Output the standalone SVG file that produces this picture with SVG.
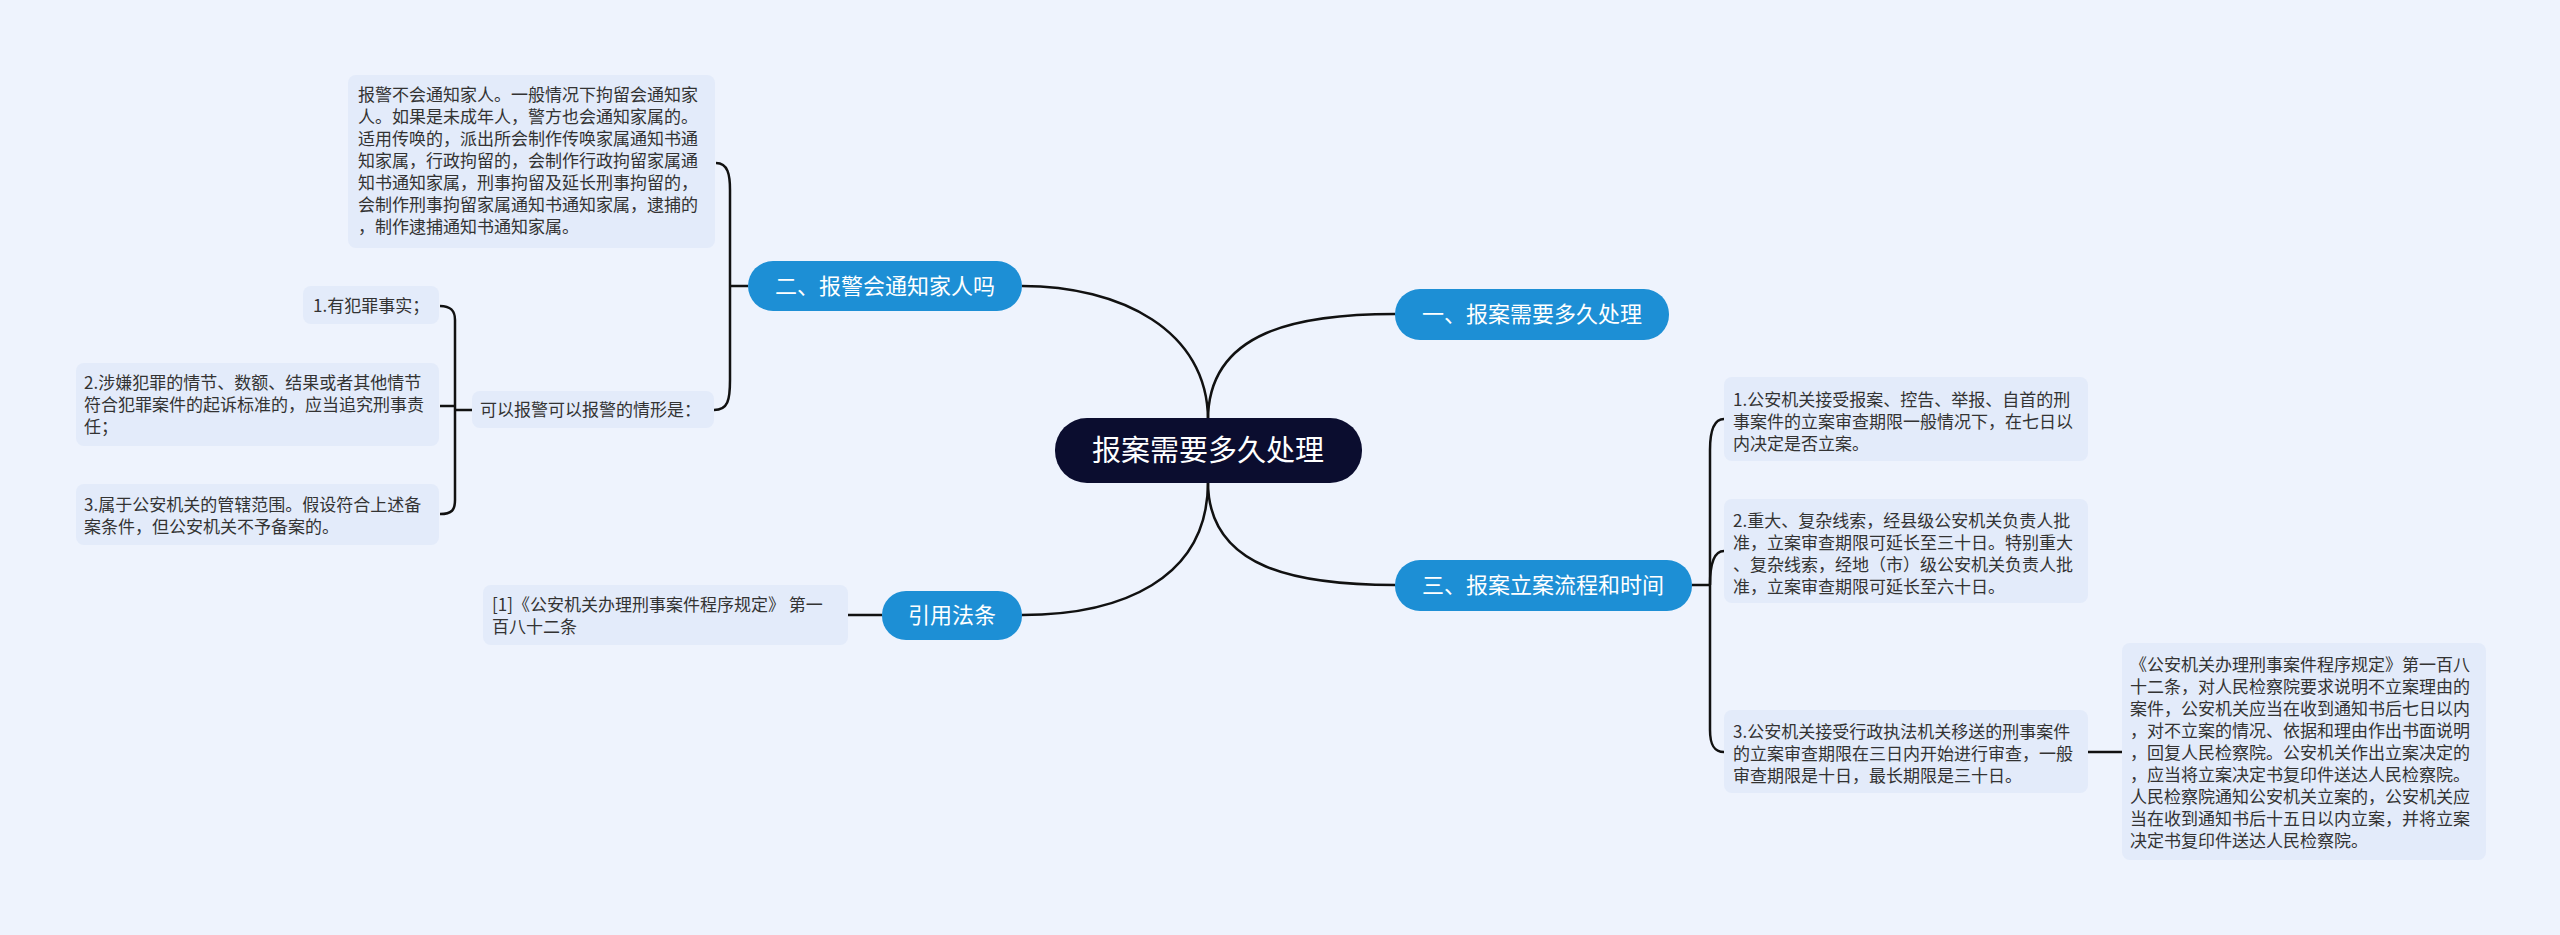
<svg xmlns="http://www.w3.org/2000/svg" width="2560" height="935" viewBox="0 0 2560 935">
<style>
text{font-family:"Noto Sans CJK SC","Noto Sans",sans-serif}
.leaf{fill:#e3ebfa}
.lt{font-size:17px;fill:#333}
.br{fill:#1d8fd5}
.bt{font-size:22px;fill:#fff;text-anchor:middle}
.c{fill:none;stroke:#111;stroke-width:2.5}
</style>
<rect width="2560" height="935" fill="#eef3fd"/>
<g id="connectors">
<path class="c" d="M1208 420 C1208 330 1300 314 1395 314"/>
<path class="c" d="M1208 420 C1208 330 1120 286 1022 286"/>
<path class="c" d="M1208 482 C1208 570 1300 585 1395 585"/>
<path class="c" d="M1208 482 C1208 580 1120 615 1022 615"/>
<path class="c" d="M748 286 H730"/>
<path class="c" d="M716 163 C728 163 730 175 730 190 V380 C730 400 728 410 714 410"/>
<path class="c" d="M472 410 H455"/>
<path class="c" d="M440 306 C452 306 455 312 455 320 V500 C455 510 452 514 440 514"/>
<path class="c" d="M440 406 H455"/>
<path class="c" d="M848 615 H882"/>
<path class="c" d="M1692 585 H1710"/>
<path class="c" d="M1724 419 C1714 419 1710 430 1710 450 V730 C1710 745 1714 752 1724 752"/>
<path class="c" d="M1724 551 C1714 551 1710 565 1710 585"/>
<path class="c" d="M2088 752 H2122"/>
</g>
<g id="center"><rect x="1055" y="418" width="307" height="65" rx="32" fill="#0b0d2f"/><text x="1208" y="461" font-size="29" fill="#fff" text-anchor="middle">报案需要多久处理</text></g>
<g id="b1"><rect class="br" x="1395" y="289" width="274" height="51" rx="25"/><text class="bt" x="1532" y="322">一、报案需要多久处理</text></g>
<g id="b2"><rect class="br" x="748" y="261" width="274" height="50" rx="25"/><text class="bt" x="885" y="294">二、报警会通知家人吗</text></g>
<g id="b3"><rect class="br" x="1395" y="560" width="297" height="51" rx="25"/><text class="bt" x="1543" y="593">三、报案立案流程和时间</text></g>
<g id="b4"><rect class="br" x="882" y="591" width="140" height="49" rx="24"/><text class="bt" x="952" y="623">引用法条</text></g>
<g id="n21"><rect class="leaf" x="348" y="75" width="367" height="173" rx="8"/>
<text class="lt" x="358"><tspan x="358" y="101">报警不会通知家人。一般情况下拘留会通知家</tspan><tspan x="358" y="123">人。如果是未成年人，警方也会通知家属的。</tspan><tspan x="358" y="145">适用传唤的，派出所会制作传唤家属通知书通</tspan><tspan x="358" y="167">知家属，行政拘留的，会制作行政拘留家属通</tspan><tspan x="358" y="189">知书通知家属，刑事拘留及延长刑事拘留的，</tspan><tspan x="358" y="211">会制作刑事拘留家属通知书通知家属，逮捕的</tspan><tspan x="358" y="233">，制作逮捕通知书通知家属。</tspan></text></g>
<g id="n22"><rect class="leaf" x="472" y="391" width="242" height="37" rx="8"/><text class="lt" x="480" y="416">可以报警可以报警的情形是：</text></g>
<g id="n221"><rect class="leaf" x="303" y="286" width="136" height="38" rx="8"/><text class="lt" x="313" y="312">1.有犯罪事实；</text></g>
<g id="n222"><rect class="leaf" x="76" y="363" width="363" height="83" rx="8"/>
<text class="lt"><tspan x="84" y="389">2.涉嫌犯罪的情节、数额、结果或者其他情节</tspan><tspan x="84" y="411">符合犯罪案件的起诉标准的，应当追究刑事责</tspan><tspan x="84" y="433">任；</tspan></text></g>
<g id="n223"><rect class="leaf" x="76" y="484" width="363" height="61" rx="8"/>
<text class="lt"><tspan x="84" y="511">3.属于公安机关的管辖范围。假设符合上述备</tspan><tspan x="84" y="533">案条件，但公安机关不予备案的。</tspan></text></g>
<g id="n41"><rect class="leaf" x="483" y="585" width="365" height="60" rx="8"/>
<text class="lt"><tspan x="492" y="611">[1]《公安机关办理刑事案件程序规定》 第一</tspan><tspan x="492" y="633">百八十二条</tspan></text></g>
<g id="n31"><rect class="leaf" x="1724" y="377" width="364" height="84" rx="8"/>
<text class="lt"><tspan x="1733" y="406">1.公安机关接受报案、控告、举报、自首的刑</tspan><tspan x="1733" y="428">事案件的立案审查期限一般情况下，在七日以</tspan><tspan x="1733" y="450">内决定是否立案。</tspan></text></g>
<g id="n32"><rect class="leaf" x="1724" y="499" width="364" height="104" rx="8"/>
<text class="lt"><tspan x="1733" y="527">2.重大、复杂线索，经县级公安机关负责人批</tspan><tspan x="1733" y="549">准，立案审查期限可延长至三十日。特别重大</tspan><tspan x="1733" y="571">、复杂线索，经地（市）级公安机关负责人批</tspan><tspan x="1733" y="593">准，立案审查期限可延长至六十日。</tspan></text></g>
<g id="n33"><rect class="leaf" x="1724" y="710" width="364" height="83" rx="8"/>
<text class="lt"><tspan x="1733" y="738">3.公安机关接受行政执法机关移送的刑事案件</tspan><tspan x="1733" y="760">的立案审查期限在三日内开始进行审查，一般</tspan><tspan x="1733" y="782">审查期限是十日，最长期限是三十日。</tspan></text></g>
<g id="n331"><rect class="leaf" x="2122" y="643" width="364" height="217" rx="8"/>
<text class="lt"><tspan x="2130" y="671">《公安机关办理刑事案件程序规定》第一百八</tspan><tspan x="2130" y="693">十二条，对人民检察院要求说明不立案理由的</tspan><tspan x="2130" y="715">案件，公安机关应当在收到通知书后七日以内</tspan><tspan x="2130" y="737">，对不立案的情况、依据和理由作出书面说明</tspan><tspan x="2130" y="759">，回复人民检察院。公安机关作出立案决定的</tspan><tspan x="2130" y="781">，应当将立案决定书复印件送达人民检察院。</tspan><tspan x="2130" y="803">人民检察院通知公安机关立案的，公安机关应</tspan><tspan x="2130" y="825">当在收到通知书后十五日以内立案，并将立案</tspan><tspan x="2130" y="847">决定书复印件送达人民检察院。</tspan></text></g>
</svg>
